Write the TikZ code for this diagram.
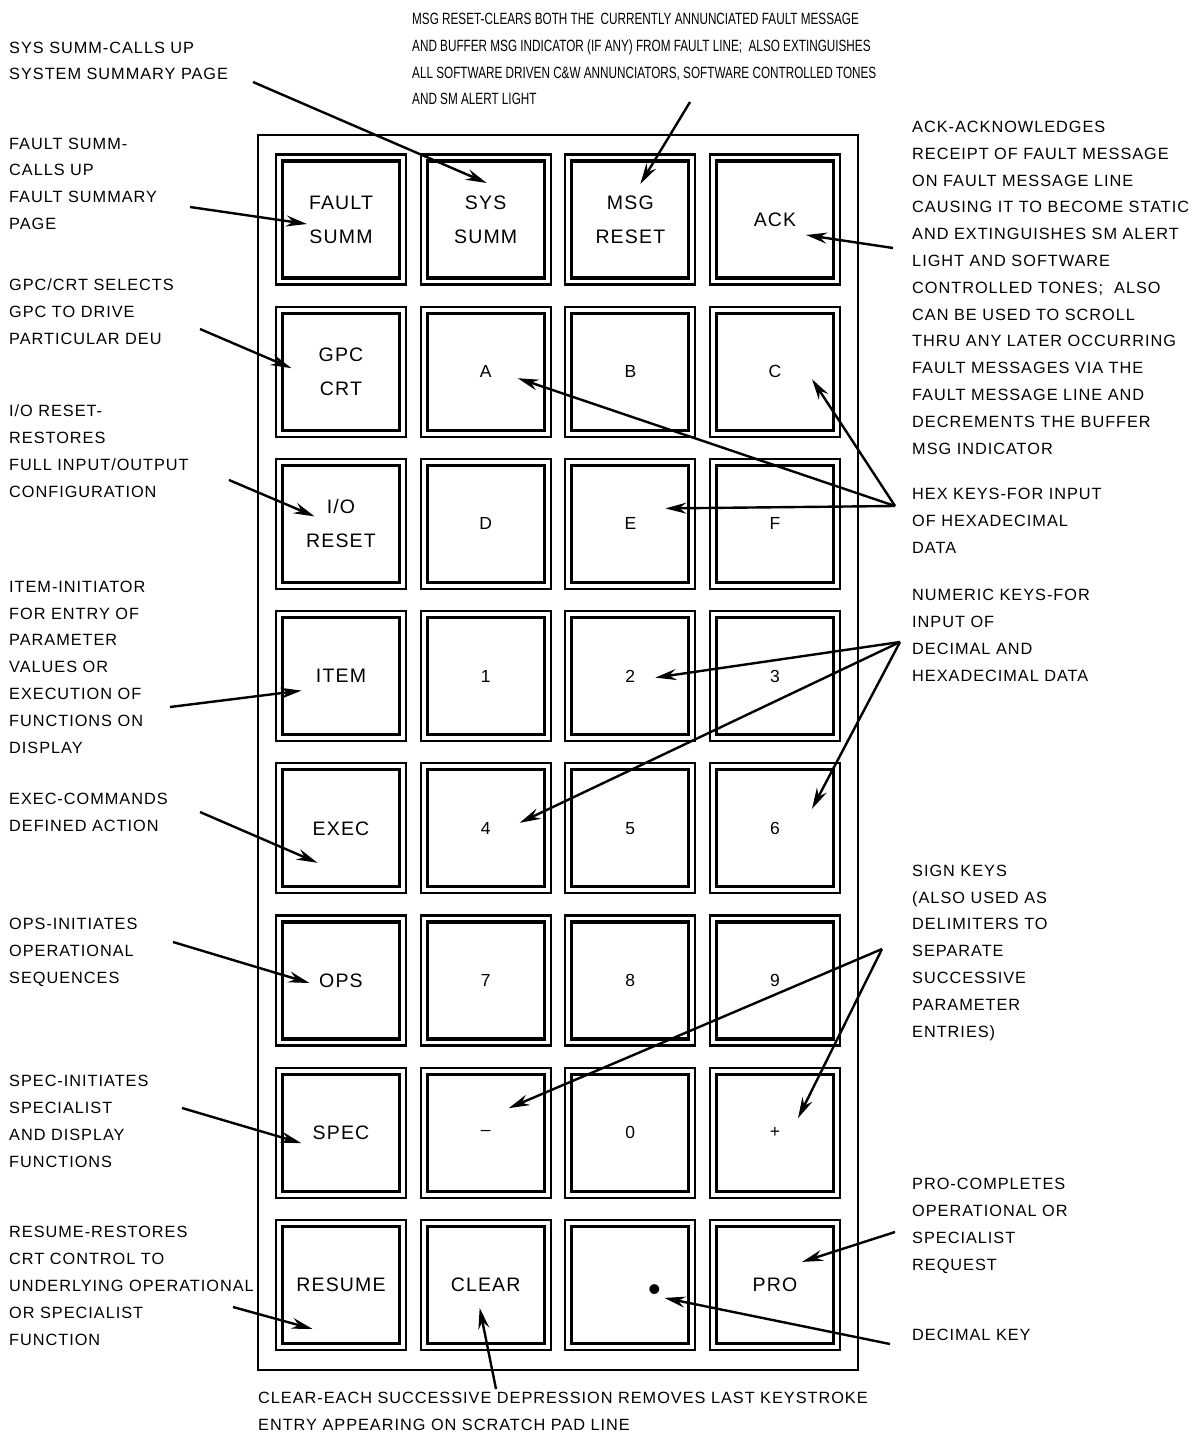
\documentclass[tikz,border=0pt]{standalone}
\usepackage{fontspec}
\setmainfont{Liberation Sans}
\newfontfamily\notefont{Liberation Sans}[LetterSpace=6]
\newfontfamily\condfont{Liberation Sans}[FakeStretch=0.72]
\usetikzlibrary{arrows.meta,calc}

\tikzset{
  keybox/.style={draw, line width=2.2pt, minimum width=130pt, minimum height=130pt, inner sep=0pt, outer sep=0pt, align=center},
  wordkey/.style={font=\notefont\fontsize{19.5}{34}\selectfont},
  charkey/.style={font=\notefont\fontsize{17.5}{20}\selectfont},
  dotmark/.style={inner sep=0pt, font=\fontsize{36}{38}\selectfont},
  note/.style={anchor=base west, align=left, inner sep=0pt, font=\notefont\fontsize{16.3}{26.8}\selectfont},
  condnote/.style={anchor=base west, align=left, inner sep=0pt, font=\condfont\fontsize{16.3}{26.8}\selectfont},
  conn/.style={line width=2.4pt, -{Stealth[length=21pt, width=11pt, inset=7pt]}}
}

\begin{document}
\begin{tikzpicture}[x=1pt, y=-1pt]
\useasboundingbox (0,0) rectangle (1194,1450);

\draw[line width=2.8pt] (258,135) rectangle (858,1370);

\foreach \n/\s/\t [count=\i from 0] in {
  fault/wordkey/FAULT\\SUMM, sys/wordkey/SYS\\SUMM, msg/wordkey/MSG\\RESET, ack/wordkey/ACK,
  gpc/wordkey/GPC\\CRT, a/charkey/A, b/charkey/B, c/charkey/C,
  io/wordkey/{I/O}\\RESET, d/charkey/D, e/charkey/E, f/charkey/F,
  item/wordkey/ITEM, one/charkey/1, two/charkey/2, three/charkey/3,
  exec/wordkey/EXEC, four/charkey/4, five/charkey/5, six/charkey/6,
  ops/wordkey/OPS, seven/charkey/7, eight/charkey/8, nine/charkey/9,
  spec/wordkey/SPEC, minus/charkey/–, zero/charkey/0, plus/charkey/+,
  resume/wordkey/RESUME, clear/wordkey/CLEAR, dot/charkey/{}, pro/wordkey/PRO}
{
  \pgfmathtruncatemacro\col{mod(\i,4)}
  \pgfmathtruncatemacro\row{div(\i,4)}
  \node[keybox,\s] (k-\n) at (341+144.67*\col, 219.5+152.2*\row) {\t};
  \draw[line width=3.2pt] ($(k-\n.north west)+(6.5,6.5)$) rectangle ($(k-\n.south east)-(6.5,6.5)$);
}
\node[dotmark] (k-point) at ($(k-dot)+(24,8)$) {•};

\node[note] (t-sys) at (9,80) {SYS SUMM-CALLS UP\\SYSTEM SUMMARY PAGE};
\node[note] (t-fault) at (9,229.5) {FAULT SUMM-\\CALLS UP\\FAULT SUMMARY\\PAGE};
\node[note] (t-gpc) at (9,344) {GPC/CRT SELECTS\\GPC TO DRIVE\\PARTICULAR DEU};
\node[note] (t-io) at (9,497) {I/O RESET-\\RESTORES\\FULL INPUT/OUTPUT\\CONFIGURATION};
\node[note] (t-item) at (9,753) {ITEM-INITIATOR\\FOR ENTRY OF\\PARAMETER\\VALUES OR\\EXECUTION OF\\FUNCTIONS ON\\DISPLAY};
\node[note] (t-exec) at (9,831) {EXEC-COMMANDS\\DEFINED ACTION};
\node[note] (t-ops) at (9,983) {OPS-INITIATES\\OPERATIONAL\\SEQUENCES};
\node[note] (t-spec) at (9,1167) {SPEC-INITIATES\\SPECIALIST\\AND DISPLAY\\FUNCTIONS};
\node[note] (t-resume) at (9,1345) {RESUME-RESTORES\\CRT CONTROL TO\\UNDERLYING OPERATIONAL\\OR SPECIALIST\\FUNCTION};
\node[condnote] (t-msg) at (412,105) {MSG RESET-CLEARS BOTH THE\ \ CURRENTLY ANNUNCIATED FAULT MESSAGE\\AND BUFFER MSG INDICATOR (IF ANY) FROM FAULT LINE;\ \ ALSO EXTINGUISHES\\ALL SOFTWARE DRIVEN C\&W ANNUNCIATORS, SOFTWARE CONTROLLED TONES\\AND SM ALERT LIGHT};
\node[note] (t-ack) at (912,454) {ACK-ACKNOWLEDGES\\RECEIPT OF FAULT MESSAGE\\ON FAULT MESSAGE LINE\\CAUSING IT TO BECOME STATIC\\AND EXTINGUISHES SM ALERT\\LIGHT AND SOFTWARE\\CONTROLLED TONES;\ \ ALSO\\CAN BE USED TO SCROLL\\THRU ANY LATER OCCURRING\\FAULT MESSAGES VIA THE\\FAULT MESSAGE LINE AND\\DECREMENTS THE BUFFER\\MSG INDICATOR};
\node[note] (t-hex) at (912,553) {HEX KEYS-FOR INPUT\\OF HEXADECIMAL\\DATA};
\node[note] (t-num) at (912,681) {NUMERIC KEYS-FOR\\INPUT OF\\DECIMAL AND\\HEXADECIMAL DATA};
\node[note] (t-sign) at (912,1037) {SIGN KEYS\\(ALSO USED AS\\DELIMITERS TO\\SEPARATE\\SUCCESSIVE\\PARAMETER\\ENTRIES)};
\node[note] (t-pro) at (912,1270) {PRO-COMPLETES\\OPERATIONAL OR\\SPECIALIST\\REQUEST};
\node[note] (t-dec) at (912,1340) {DECIMAL KEY};
\node[note] (t-clear) at (258,1430) {CLEAR-EACH SUCCESSIVE DEPRESSION REMOVES LAST KEYSTROKE\\ENTRY APPEARING ON SCRATCH PAD LINE};

\coordinate (sysS) at (253,82);
\coordinate (faultS) at (190,207);
\coordinate (msgS) at (690,102);
\coordinate (ackS) at (893,248);
\coordinate (gpcS) at (200,329);
\coordinate (ioS) at (229,480);
\coordinate (hexS) at (895,506);
\coordinate (numS) at (900,642);
\coordinate (itemS) at (170,707);
\coordinate (execS) at (200,812);
\coordinate (opsS) at (173,942);
\coordinate (specS) at (182,1108);
\coordinate (resumeS) at (233,1307);
\coordinate (signS) at (882,949);
\coordinate (proS) at (895,1232);
\coordinate (decS) at (890,1344);
\coordinate (clearS) at (496,1389);

\draw[conn] (sysS) -- ($(k-sys)+(1,-36.5)$);
\draw[conn] (faultS) -- ($(k-fault)+(-34,4.5)$);
\draw[conn] (msgS) -- ($(k-msg)+(10,-35.5)$);
\draw[conn] (ackS) -- ($(k-ack)+(31,15.5)$);
\draw[conn] (gpcS) -- ($(k-gpc)+(-49.5,-3.5)$);
\draw[conn] (ioS) -- ($(k-io)+(-26.5,-7.5)$);
\draw[conn] (hexS) -- ($(k-a)+(32,6.5)$);
\draw[conn] (hexS) -- ($(k-e)+(35,-15.5)$);
\draw[conn] (hexS) -- ($(k-c)+(37,7.5)$);
\draw[conn] (numS) -- ($(k-two)+(25,1.5)$);
\draw[conn] (numS) -- ($(k-four)+(34,-5.5)$);
\draw[conn] (numS) -- ($(k-six)+(37,-19.5)$);
\draw[conn] (itemS) -- ($(k-item)+(-39.5,14.5)$);
\draw[conn] (execS) -- ($(k-exec)+(-23.5,34.5)$);
\draw[conn] (opsS) -- ($(k-ops)+(-31.5,2.5)$);
\draw[conn] (specS) -- ($(k-spec)+(-39.5,10.5)$);
\draw[conn] (resumeS) -- ($(k-resume)+(-28.5,44)$);
\draw[conn] (signS) -- ($(k-minus)+(23,-24.5)$);
\draw[conn] (signS) -- ($(k-plus)+(23,-14.5)$);
\draw[conn] (proS) -- ($(k-pro)+(27,-23)$);
\draw[conn] (decS) -- ($(k-point)+(10,5)$);
\draw[conn] (clearS) -- ($(k-clear)+(-6,23)$);

\end{tikzpicture}
\end{document}
